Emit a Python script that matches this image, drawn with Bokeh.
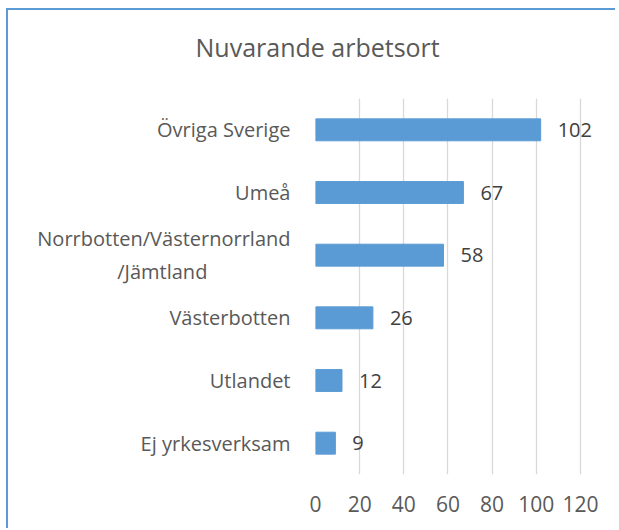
from bokeh.plotting import figure
from bokeh.models import ColumnDataSource, LabelSet, FixedTicker, Title, FactorRange, Range1d
from bokeh.core.properties import value
from bokeh.embed import file_html
from bokeh.resources import INLINE

NBSP = "\u00a0"
categories = ["Övriga Sverige", "Umeå", "Norrbotten/Västernorrland\n/Jämtland" + NBSP * 16,
              "Västerbotten", "Utlandet", "Ej yrkesverksam"]
values = [102, 67, 58, 26, 12, 9]
x_ticks = [0, 20, 40, 60, 80, 100, 120]
title_text = "Nuvarande arbetsort"

FONT = "Open Sans"
GREY = "#595959"

src = ColumnDataSource(dict(cat=categories, val=values, lbl=[str(v) for v in values]))

p = figure(width=609, height=520, output_backend="svg", toolbar_location=None,
           y_range=FactorRange(*categories[::-1], range_padding=0),
           x_range=Range1d(0, 130),
           min_border_left=307, min_border_right=15, min_border_top=86, min_border_bottom=56,
           styles={"margin-left": "6px", "margin-top": "8px",
                   "border-left": "2px solid #5B9BD5", "border-top": "2px solid #5B9BD5"})
p.title = None
p.outline_line_color = None

p.hbar(y="cat", right="val", left=0, height=0.35, source=src, color="#5B9BD5")

labels = LabelSet(x="val", y="cat", text="lbl", source=src, x_offset=17,
                  text_baseline="middle", text_font=value(FONT), text_font_size="20px",
                  text_color="#404040")
p.add_layout(labels)

# white (invisible) spacer between the frame and the title
spacer = Title(text=" ", standoff=11, text_font_size="1px", text_color="white")
p.add_layout(spacer, "above")

t = Title(text=title_text, align="left", offset=-120, standoff=38, vertical_align="top",
          text_font=FONT, text_font_size="25px", text_color=GREY, text_font_style="normal")
p.add_layout(t, "above")

p.xaxis.ticker = FixedTicker(ticks=x_ticks)
p.xaxis.axis_line_color = None
p.xaxis.major_tick_line_color = None
p.xaxis.minor_tick_line_color = None
p.xaxis.major_label_text_font = FONT
p.xaxis.major_label_text_font_size = "21px"
p.xaxis.major_label_text_color = GREY
p.xaxis.major_label_standoff = 15

p.yaxis.axis_line_color = None
p.yaxis.major_tick_line_color = None
p.yaxis.minor_tick_line_color = None
p.yaxis.major_label_text_font = FONT
p.yaxis.major_label_text_font_size = "20px"
p.yaxis.major_label_text_color = GREY
p.yaxis.major_label_standoff = 19

p.xgrid.grid_line_color = "#D9D9D9"
p.xgrid.grid_line_width = 1.3
p.ygrid.grid_line_color = None

open("out.html", "w").write(file_html(p, INLINE))
